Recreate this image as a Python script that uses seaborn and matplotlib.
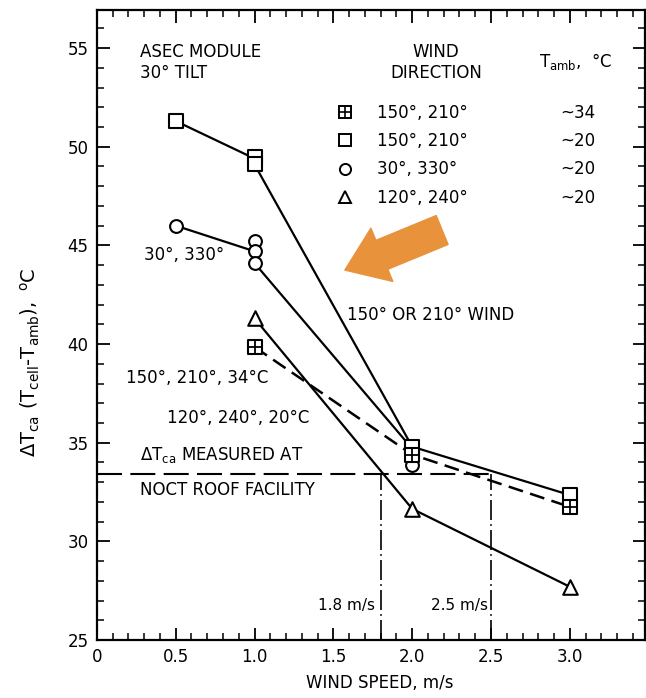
import matplotlib
matplotlib.use("Agg")
import matplotlib.pyplot as plt
from matplotlib.lines import Line2D
from matplotlib.ticker import MultipleLocator
import seaborn as sns

# ---------------- data ----------------
sq20_speed = [0.5, 1.0, 1.0, 2.0, 3.0]
sq20_dT = [51.3, 49.5, 49.1, 34.8, 32.35]
sq20_line_speed = [0.5, 1.0, 1.0, 2.0, 3.0]
sq20_line_dT = [51.3, 49.4, 49.1, 34.8, 32.35]

circ_speed = [0.5, 1.0, 1.0, 1.0, 2.0]
circ_dT = [46.0, 45.2, 44.7, 44.1, 33.85]
circ_line_speed = [0.5, 1.0, 1.0, 2.0]
circ_line_dT = [46.0, 44.7, 44.1, 34.7]

tri_speed = [1.0, 2.0, 3.0]
tri_dT = [41.3, 31.65, 27.7]

bp_speed = [1.0, 2.0, 3.0]
bp_dT = [39.85, 34.4, 31.75]

noct_dT = 33.4
noct_speeds = [1.8, 2.5]

legend_dirs = ["150°, 210°", "150°, 210°", "30°, 330°", "120°, 240°"]
legend_tamb = ["~34", "~20", "~20", "~20"]

x_ticks = [0, 0.5, 1.0, 1.5, 2.0, 2.5, 3.0]
x_ticklabels = ["0", "0.5", "1.0", "1.5", "2.0", "2.5", "3.0"]
y_ticks = [25, 30, 35, 40, 45, 50, 55]

# ---------------- figure ----------------
sns.set_theme(style="ticks")
plt.rcParams["font.family"] = ["DejaVu Sans"]
plt.rcParams["mathtext.fontset"] = "dejavusans"
plt.rcParams["text.color"] = "black"
plt.rcParams["axes.labelcolor"] = "black"
FS = 12

fig = plt.figure(figsize=(6.46, 6.98), dpi=100)
ax = fig.add_axes([0.150, 0.083, 0.848, 0.903])

LW = 1.6
# lines
sns.lineplot(x=sq20_line_speed, y=sq20_line_dT, sort=False, estimator=None,
             color="black", lw=LW, ax=ax, zorder=2)
sns.lineplot(x=circ_line_speed, y=circ_line_dT, sort=False, estimator=None,
             color="black", lw=LW, ax=ax, zorder=2)
sns.lineplot(x=tri_speed, y=tri_dT, sort=False, estimator=None,
             color="black", lw=LW, ax=ax, zorder=2)
sns.lineplot(x=bp_speed, y=bp_dT, sort=False, estimator=None,
             color="black", lw=1.8, linestyle=(0, (6, 3)), ax=ax, zorder=2)

# NOCT reference lines
ax.plot([0, noct_speeds[1]], [noct_dT, noct_dT], color="black", lw=1.5,
        linestyle=(0, (12, 4)), zorder=1)
for s in noct_speeds:
    ax.plot([s, s], [25, noct_dT], color="black", lw=1.2,
            linestyle=(0, (12, 2.5, 1, 2.5)), zorder=1)

# markers
mk = dict(facecolor="white", edgecolor="black", linewidth=1.5, zorder=4, ax=ax, legend=False)
sns.scatterplot(x=sq20_speed, y=sq20_dT, marker="s", s=100, **mk)
sns.scatterplot(x=circ_speed, y=circ_dT, marker="o", s=85, **mk)
sns.scatterplot(x=tri_speed, y=tri_dT, marker="^", s=110, **mk)
sns.scatterplot(x=bp_speed, y=bp_dT, marker="s", s=100, **mk)
sns.scatterplot(x=bp_speed, y=bp_dT, marker="+", s=100, color="black",
                linewidth=1.3, zorder=5, ax=ax, legend=False)

# axes
ax.set_xlim(0, 3.475)
ax.set_ylim(25, 56.94)
ax.set_xticks(x_ticks)
ax.set_xticklabels(x_ticklabels)
ax.set_yticks(y_ticks)
ax.xaxis.set_minor_locator(MultipleLocator(0.1))
ax.yaxis.set_minor_locator(MultipleLocator(1))
ax.tick_params(which="both", direction="in", top=True, right=True,
               labelsize=FS, color="black", labelcolor="black", pad=6)
ax.tick_params(which="major", length=9, width=1.3)
ax.tick_params(which="minor", length=5, width=1.1)
for sp in ax.spines.values():
    sp.set_linewidth(1.6)
    sp.set_color("black")
ax.set_xlabel("")
ax.set_ylabel("")

fig.text(380 / 646, 1 - 683 / 698, "WIND SPEED, m/s", ha="center", va="center",
         fontsize=FS)
fig.text(30 / 646, 1 - 362 / 698,
         r"$\Delta\mathrm{T_{ca}}\ (\mathrm{T_{cell}}$-$\mathrm{T_{amb}}),\ ^{\mathrm{o}}$C",
         rotation=90, ha="center", va="center", fontsize=14)

# header texts
ax.text(0.273, 55.26, "ASEC MODULE\n30° TILT", ha="left", va="top",
        fontsize=FS, linespacing=1.25)
ax.text(2.15, 55.26, "WIND\nDIRECTION", ha="center", va="top",
        fontsize=FS, linespacing=1.25, multialignment="center")
ax.text(3.04, 54.3, r"$\mathrm{T_{amb}}$,  °C", ha="center", va="center", fontsize=FS)

# legend (symbols + wind direction)
h_bp = (Line2D([], [], marker="s", ms=8.5, mfc="white", mec="black", mew=1.4, ls="none"),
        Line2D([], [], marker="+", ms=8.5, color="black", mew=1.2, ls="none"))
h_sq = Line2D([], [], marker="s", ms=8.5, mfc="white", mec="black", mew=1.4, ls="none")
h_ci = Line2D([], [], marker="o", ms=8, mfc="white", mec="black", mew=1.4, ls="none")
h_tr = Line2D([], [], marker="^", ms=9, mfc="white", mec="black", mew=1.4, ls="none")
leg_top = (640 - 104) / 630
leg1 = ax.legend([h_bp, h_sq, h_ci, h_tr], legend_dirs, loc="upper left",
                 bbox_to_anchor=((336.7 - 97) / 548, leg_top),
                 frameon=False, fontsize=FS, handlelength=1.0, handletextpad=1.41,
                 borderpad=0, borderaxespad=0, labelspacing=0.62)
ax.add_artist(leg1)
blank = [Line2D([], [], ls="none") for _ in legend_tamb]
ax.legend(blank, legend_tamb, loc="upper left",
          bbox_to_anchor=((561 - 97) / 548, leg_top),
          frameon=False, fontsize=FS, handlelength=0, handletextpad=0,
          borderpad=0, borderaxespad=0, labelspacing=0.62)

# annotations
ax.text(0.30, 44.51, "30°, 330°", ha="left", va="center", fontsize=FS)
ax.text(1.585, 41.47, "150° OR 210° WIND", ha="left", va="center", fontsize=FS)
ax.text(0.184, 38.28, "150°, 210°, 34°C", ha="left", va="center", fontsize=FS)
ax.text(0.444, 36.25, "120°, 240°, 20°C", ha="left", va="center", fontsize=FS)
ax.text(0.273, 34.38, r"$\Delta\mathrm{T_{ca}}$ MEASURED AT", ha="left", va="center", fontsize=FS)
ax.text(0.273, 32.6, "NOCT ROOF FACILITY", ha="left", va="center", fontsize=FS)
ax.text(noct_speeds[0] - 0.035, 26.77, "1.8 m/s", ha="right", va="center", fontsize=FS - 1)
ax.text(noct_speeds[1] - 0.02, 26.77, "2.5 m/s", ha="right", va="center", fontsize=FS - 1)

# orange arrow
ax.annotate("", xy=(1.573, 43.75), xytext=(2.19, 45.78),
            arrowprops=dict(arrowstyle="simple,head_length=1.6,head_width=2.3,tail_width=1.25",
                            mutation_scale=18, color="#E8923B", shrinkA=0, shrinkB=0),
            zorder=6)

fig.savefig("out.png", dpi=100)
